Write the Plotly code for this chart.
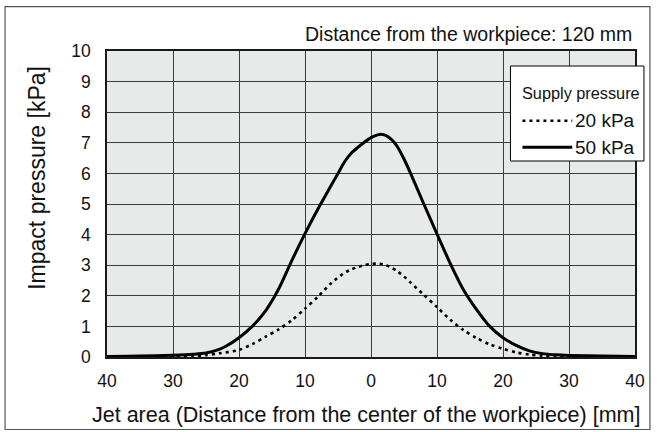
import plotly.graph_objects as go

# Jet area: signed distance from the workpiece centre [mm]
dist_50 = [-40, -35, -30, -27, -25, -23, -22, -20, -18, -16, -14, -12, -10, -8, -6, -5, -4, -3, -2, -1,
           0, 1, 1.5, 2, 2.5, 3, 3.5, 4, 4.5, 5, 6, 8, 10, 12, 14, 16, 18, 20, 22, 24, 26, 28, 30, 35, 40]
pressure_50 = [0.02, 0.03, 0.06, 0.09, 0.13, 0.25, 0.35, 0.63, 1.0, 1.5, 2.22, 3.15, 4.03, 4.85, 5.62,
               6.0, 6.38, 6.66, 6.85, 7.02, 7.17, 7.26, 7.28, 7.26, 7.21, 7.13, 7.02, 6.87, 6.68, 6.47,
               6.0, 5.0, 4.02, 3.06, 2.2, 1.55, 1.0, 0.63, 0.38, 0.2, 0.11, 0.07, 0.05, 0.03, 0.02]

dist_20 = [-40, -35, -30, -27, -25, -23, -20, -18, -16, -14, -12, -10, -8, -6, -4, -3, -2, -1,
           0, 1, 2, 3, 4, 5, 6, 8, 10, 12, 14, 16, 18, 20, 22, 24, 26, 28, 30, 35, 40]
pressure_20 = [0.005, 0.01, 0.015, 0.03, 0.06, 0.12, 0.23, 0.42, 0.66, 0.9, 1.2, 1.58, 1.98, 2.42,
               2.75, 2.86, 2.94, 3.0, 3.04, 3.05, 3.02, 2.93, 2.8, 2.63, 2.43, 2.03, 1.63, 1.22,
               0.88, 0.62, 0.41, 0.27, 0.15, 0.08, 0.04, 0.02, 0.015, 0.01, 0.005]

x_ticks = [-40, -30, -20, -10, 0, 10, 20, 30, 40]
x_tick_labels = [str(abs(v)) for v in x_ticks]
y_ticks = list(range(0, 11))

FONT = "Liberation Sans, Arial, Helvetica, sans-serif"
W, H = 657, 432
L, R, T, B = 107, 20, 51, 75
PW, PH = W - L - R, H - T - B


def px(xpix):
    return (xpix - L) / PW


def py(ypix):
    return (H - B - ypix) / PH


fig = go.Figure()
fig.add_trace(go.Scatter(x=dist_20, y=pressure_20, mode="lines", name="20 kPa",
                         line=dict(color="black", width=2.6, dash="3px,4px", shape="spline", smoothing=0.8),
                         showlegend=False))
fig.add_trace(go.Scatter(x=dist_50, y=pressure_50, mode="lines", name="50 kPa",
                         line=dict(color="black", width=3, shape="spline", smoothing=0.8),
                         showlegend=False))

shapes = [
    # outer frame
    dict(type="rect", xref="paper", yref="paper", x0=px(4.7), x1=px(652), y0=py(429.5), y1=py(6.7),
         line=dict(color="#555555", width=1.2), layer="above"),
    # legend box
    dict(type="rect", xref="paper", yref="paper", x0=px(512), x1=px(646), y0=py(161), y1=py(66),
         line=dict(color="black", width=1), fillcolor="white", layer="above"),
    dict(type="line", xref="paper", yref="paper", x0=px(524), x1=px(574), y0=py(120.7), y1=py(120.7),
         line=dict(color="black", width=2.6, dash="3px,4px"), layer="above"),
    dict(type="line", xref="paper", yref="paper", x0=px(524), x1=px(574), y0=py(147.3), y1=py(147.3),
         line=dict(color="black", width=3), layer="above"),
]

annotations = [
    dict(text="Distance from the workpiece: 120 mm", xref="paper", yref="paper",
         x=px(636), y=py(34), xanchor="right", yanchor="middle", showarrow=False,
         font=dict(size=19.5, color="#111111", family=FONT)),
    dict(text="Impact pressure [kPa]", xref="paper", yref="paper", textangle=-90,
         x=px(36), y=py(177.5), xanchor="center", yanchor="middle", showarrow=False,
         font=dict(size=23, color="#111111", family=FONT)),
    dict(text="Jet area (Distance from the center of the workpiece) [mm]", xref="paper", yref="paper",
         x=px(367), y=py(415), xanchor="center", yanchor="middle", showarrow=False,
         font=dict(size=21.5, color="#111111", family=FONT)),
    dict(text="Supply pressure", xref="paper", yref="paper",
         x=px(521.5), y=py(93), xanchor="left", yanchor="middle", showarrow=False,
         font=dict(size=16.3, color="#111111", family=FONT)),
    dict(text="20 kPa", xref="paper", yref="paper",
         x=px(575), y=py(121), xanchor="left", yanchor="middle", showarrow=False,
         font=dict(size=19, color="#111111", family=FONT)),
    dict(text="50 kPa", xref="paper", yref="paper",
         x=px(575), y=py(147.5), xanchor="left", yanchor="middle", showarrow=False,
         font=dict(size=19, color="#111111", family=FONT)),
]

fig.update_layout(
    width=W, height=H,
    margin=dict(l=L, r=R, t=T, b=B, pad=0),
    paper_bgcolor="white",
    plot_bgcolor="#e8e9e9",
    font=dict(family=FONT, color="#111111"),
    shapes=shapes,
    annotations=annotations,
    showlegend=False,
)
fig.update_xaxes(range=[-40, 40], tickvals=x_ticks, ticktext=x_tick_labels,
                 showgrid=True, gridcolor="#3c3c3c", gridwidth=1.2, zeroline=False,
                 showline=True, linecolor="#1a1a1a", linewidth=1.6, mirror=True,
                 ticks="", tickfont=dict(size=17.5, color="#111111"), ticklabelstandoff=7)
fig.update_yaxes(range=[0, 10], tickvals=y_ticks,
                 showgrid=True, gridcolor="#3c3c3c", gridwidth=1.2, zeroline=False,
                 showline=True, linecolor="#1a1a1a", linewidth=1.6, mirror=True,
                 ticks="", tickfont=dict(size=17.5, color="#111111"), ticklabelstandoff=11)

fig.write_html("out.html")
